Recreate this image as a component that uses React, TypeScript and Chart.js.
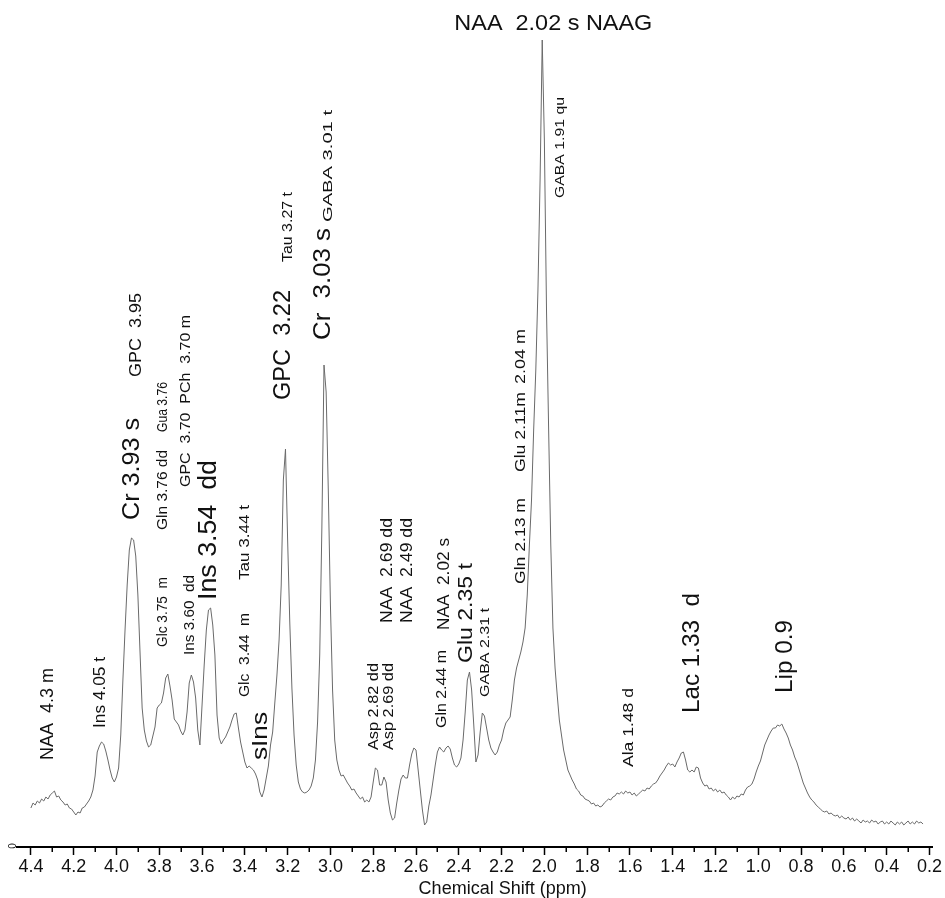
import React, { useEffect, useRef } from "react";
import { Chart, registerables } from "chart.js";

Chart.register(...registerables);

const FONT = "'Liberation Sans', Arial, Helvetica, sans-serif";

// Spectrum sampled every 0.01 ppm from 4.40 ppm down to 0.23 ppm
const SHIFT_START = 4.4;
const SHIFT_STEP = 0.01;

const intensity: number[] = [
  // 4.40 - 4.00
  39, 44, 42, 46, 44, 48, 46, 50, 48, 52, 54, 56, 50, 51, 47, 45, 42, 43, 39, 38,
  35, 32, 35, 34, 39, 40, 43, 46, 50, 57, 71, 95, 101, 105, 103, 96, 87, 77, 69, 65,
  70,
  // 3.99 - 3.50
  79, 112, 167, 217, 262, 297, 309, 307, 291, 252,
  195, 139, 117, 106, 100, 102, 111, 120, 139, 142,
  144, 154, 169, 173, 161, 147, 128, 125, 122, 116,
  112, 117, 135, 164, 172, 165, 149, 117, 102, 142,
  182, 217, 237, 239, 222, 192, 132, 109, 103, 107,
  // 3.49 - 3.00
  110, 115, 120, 127, 133, 134, 119, 105, 95, 85,
  79, 81, 79, 77, 73, 67, 55, 50, 57, 69,
  81, 102, 115, 144, 172, 207, 262, 367, 398, 307,
  225, 159, 112, 82, 65, 58, 55, 54, 55, 57,
  61, 69, 87, 125, 192, 319, 482, 455, 357, 242,
  // 2.99 - 2.50
  157, 107, 87, 77, 71, 72, 68, 64, 61, 57,
  58, 54, 51, 48, 50, 45, 47, 45, 50, 65,
  79, 77, 62, 62, 70, 65, 47, 34, 27, 29,
  44, 57, 68, 72, 69, 69, 82, 93, 99, 97,
  77, 57, 37, 22, 25, 41, 52, 67, 82, 95,
  // 2.49 - 2.00
  100, 97, 95, 99, 101, 98, 89, 82, 80, 83,
  89, 107, 135, 167, 175, 157, 122, 85, 92, 115,
  134, 131, 119, 107, 99, 95, 92, 95, 102, 107,
  117, 124, 127, 130, 147, 167, 179, 187, 195, 205,
  219, 252, 302, 347, 417, 477, 557, 667, 807, 707,
  // 1.99 - 1.50
  537, 417, 302, 219, 179, 152, 127, 112, 97, 87,
  77, 72, 67, 63, 58, 56, 52, 51, 48, 47,
  46, 43, 44, 41, 42, 40, 41, 44, 46, 48,
  47, 50, 51, 54, 53, 55, 53, 56, 54, 55,
  52, 54, 51, 53, 55, 57, 56, 59, 58, 61,
  // 1.49 - 1.00
  63, 64, 67, 71, 74, 77, 81, 84, 82, 83,
  80, 85, 89, 94, 95, 87, 77, 75, 77, 75,
  80, 79, 69, 64, 61, 62, 58, 59, 56, 58,
  55, 57, 54, 55, 52, 50, 47, 50, 48, 51,
  50, 53, 52, 57, 60, 61, 63, 68, 75, 81,
  // 0.99 - 0.50
  86, 94, 102, 107, 112, 116, 119, 119, 122, 121,
  123, 118, 114, 109, 102, 97, 90, 85, 78, 71,
  64, 59, 54, 50, 47, 45, 42, 40, 38, 36,
  35, 36, 33, 34, 32, 31, 32, 29, 31, 29,
  28, 30, 27, 29, 26, 28, 26, 24, 27, 25,
  // 0.49 - 0.23
  26, 24, 27, 25, 26, 23, 25, 26, 23, 25,
  23, 26, 24, 22, 25, 23, 25, 22, 24, 26,
  23, 25, 23, 26, 24, 25, 23,
];

const shiftPpm: number[] = intensity.map(
  (_, i) => Math.round((SHIFT_START - i * SHIFT_STEP) * 100) / 100
);

const MAJOR_STEP = 0.2;
const minorTicks: number[] = [
  0.3, 0.5, 0.7, 0.9, 1.1, 1.3, 1.5, 1.7, 1.9, 2.1, 2.3,
  2.5, 2.7, 2.9, 3.1, 3.3, 3.5, 3.7, 3.9, 4.1, 4.3,
];

const axisTitle = "Chemical Shift (ppm)";

// Peak assignments: text, shift position, signal level where text starts, font size, text length
const peakLabels = [
  { text: "NAA  4.3 m", ppm: 4.321, level: 87, size: 18, len: 92 },
  { text: "Ins 4.05 t", ppm: 4.074, level: 119, size: 16, len: 71 },
  { text: "Cr 3.93 s", ppm: 3.926, level: 327, size: 24, len: 102 },
  { text: "GPC  3.95", ppm: 3.907, level: 470, size: 16, len: 84 },
  { text: "Glc 3.75  m", ppm: 3.781, level: 200, size: 14, len: 70 },
  { text: "Gln 3.76 dd", ppm: 3.781, level: 317, size: 14, len: 80 },
  { text: "Gua 3.76", ppm: 3.781, level: 415, size: 14, len: 50 },
  { text: "Ins 3.60  dd", ppm: 3.656, level: 192, size: 15, len: 80 },
  { text: "GPC  3.70  PCh  3.70 m", ppm: 3.674, level: 360, size: 15, len: 172 },
  { text: "Ins 3.54  dd", ppm: 3.567, level: 247, size: 26, len: 140 },
  { text: "Glc  3.44  m", ppm: 3.4, level: 150, size: 15, len: 84 },
  { text: "Tau 3.44 t", ppm: 3.4, level: 267, size: 15, len: 75 },
  { text: "sIns", ppm: 3.326, level: 87, size: 22, len: 48 },
  { text: "GPC  3.22", ppm: 3.219, level: 447, size: 24, len: 110 },
  { text: "Tau 3.27 t", ppm: 3.2, level: 585, size: 15, len: 70 },
  { text: "Cr  3.03 s", ppm: 3.033, level: 507, size: 24, len: 112 },
  { text: "GABA 3.01 t", ppm: 3.009, level: 625, size: 13, len: 112 },
  { text: "Asp 2.82 dd", ppm: 2.795, level: 97, size: 15, len: 87 },
  { text: "Asp 2.69 dd", ppm: 2.726, level: 97, size: 15, len: 87 },
  { text: "NAA  2.69 dd", ppm: 2.735, level: 224, size: 17, len: 105 },
  { text: "NAA  2.49 dd", ppm: 2.642, level: 224, size: 17, len: 105 },
  { text: "Gln 2.44 m", ppm: 2.479, level: 119, size: 14, len: 78 },
  { text: "NAA  2.02 s", ppm: 2.47, level: 217, size: 17, len: 92 },
  { text: "Glu 2.35 t", ppm: 2.367, level: 184, size: 21, len: 100 },
  { text: "GABA 2.31 t", ppm: 2.274, level: 150, size: 13, len: 89 },
  { text: "Gln 2.13 m", ppm: 2.107, level: 263, size: 14, len: 86 },
  { text: "Glu 2.11m", ppm: 2.107, level: 375, size: 14, len: 80 },
  { text: "2.04 m", ppm: 2.107, level: 463, size: 14, len: 55 },
  { text: "GABA 1.91 qu", ppm: 1.926, level: 649, size: 13, len: 101 },
  { text: "Ala 1.48 d", ppm: 1.605, level: 80, size: 15, len: 79 },
  { text: "Lac 1.33  d", ppm: 1.307, level: 134, size: 24, len: 120 },
  { text: "Lip 0.9", ppm: 0.874, level: 154, size: 24, len: 73 },
];

const headerLabel = { text: "NAA  2.02 s NAAG", ppm: 1.958, level: 817, size: 22, len: 198 };
const titleCenterPpm = 2.195;

const decorPlugin = {
  id: "spectrumDecor",
  afterDraw(chart: any) {
    const { ctx } = chart;
    const x = chart.scales.x;
    const y = chart.scales.y;
    const base = y.getPixelForValue(0);
    ctx.save();

    // minor ticks
    ctx.strokeStyle = "#000";
    ctx.lineWidth = 1.5;
    minorTicks.forEach((v) => {
      const px = Math.round(x.getPixelForValue(v)) + 0.25;
      ctx.beginPath();
      ctx.moveTo(px, base);
      ctx.lineTo(px, base + 5);
      ctx.stroke();
    });

    ctx.fillStyle = "#111";

    // rotated zero label of intensity axis
    ctx.save();
    ctx.translate(13, base - 1);
    ctx.rotate(-Math.PI / 2);
    ctx.font = `10px ${FONT}`;
    ctx.textAlign = "center";
    ctx.textBaseline = "middle";
    ctx.fillText("0", 0, 0);
    ctx.restore();

    // vertical peak labels
    peakLabels.forEach((l) => {
      const px = x.getPixelForValue(l.ppm);
      const py = y.getPixelForValue(l.level);
      ctx.save();
      ctx.font = `${l.size}px ${FONT}`;
      const w = ctx.measureText(l.text).width;
      ctx.translate(px, py);
      ctx.rotate(-Math.PI / 2);
      ctx.scale(l.len / w, 1);
      ctx.textAlign = "left";
      ctx.textBaseline = "middle";
      ctx.fillText(l.text, 0, 0);
      ctx.restore();
    });

    // horizontal header label above the main peak
    {
      const px = x.getPixelForValue(headerLabel.ppm);
      const py = y.getPixelForValue(headerLabel.level);
      ctx.save();
      ctx.font = `${headerLabel.size}px ${FONT}`;
      const w = ctx.measureText(headerLabel.text).width;
      ctx.translate(px, py);
      ctx.scale(headerLabel.len / w, 1);
      ctx.textAlign = "center";
      ctx.textBaseline = "alphabetic";
      ctx.fillText(headerLabel.text, 0, 0);
      ctx.restore();
    }

    // axis title
    ctx.font = `18px ${FONT}`;
    ctx.textAlign = "center";
    ctx.textBaseline = "middle";
    ctx.fillText(axisTitle, x.getPixelForValue(titleCenterPpm), chart.height - 9);

    ctx.restore();
  },
};

export default function App() {
  const canvasRef = useRef<HTMLCanvasElement | null>(null);

  useEffect(() => {
    const canvas = canvasRef.current;
    if (!canvas) return;
    const chart = new Chart(canvas, {
      type: "line",
      data: {
        datasets: [
          {
            label: "Spectrum",
            data: shiftPpm.map((s, i) => ({ x: s, y: intensity[i] })),
            borderColor: "#6a6a6a",
            borderWidth: 1,
            pointRadius: 0,
            tension: 0,
            fill: false,
          },
        ],
      },
      options: {
        responsive: false,
        animation: false,
        layout: { padding: { top: 10, left: 17, right: 8, bottom: 19 } },
        plugins: {
          legend: { display: false },
          tooltip: { enabled: false },
        },
        scales: {
          x: {
            type: "linear",
            reverse: true,
            min: 0.186,
            max: 4.465,
            grid: {
              display: true,
              drawOnChartArea: false,
              drawTicks: true,
              tickLength: 8,
              tickColor: "#000",
              tickWidth: 1.5,
              color: "#000",
            },
            border: { display: true, color: "#000", width: 2 },
            ticks: {
              stepSize: MAJOR_STEP,
              includeBounds: false,
              autoSkip: false,
              maxRotation: 0,
              minRotation: 0,
              padding: 3,
              color: "#111",
              font: { family: FONT, size: 18, lineHeight: 1 },
              callback: (v: any) => Number(v).toFixed(1),
            },
          },
          y: {
            type: "linear",
            display: false,
            min: 0,
            max: 837,
          },
        },
      },
      plugins: [decorPlugin],
    } as any);
    return () => chart.destroy();
  }, []);

  return (
    <div style={{ position: "fixed", left: 0, top: 0, width: 945, height: 898, background: "#fff" }}>
      <canvas ref={canvasRef} width={945} height={898} style={{ display: "block" }} />
    </div>
  );
}
